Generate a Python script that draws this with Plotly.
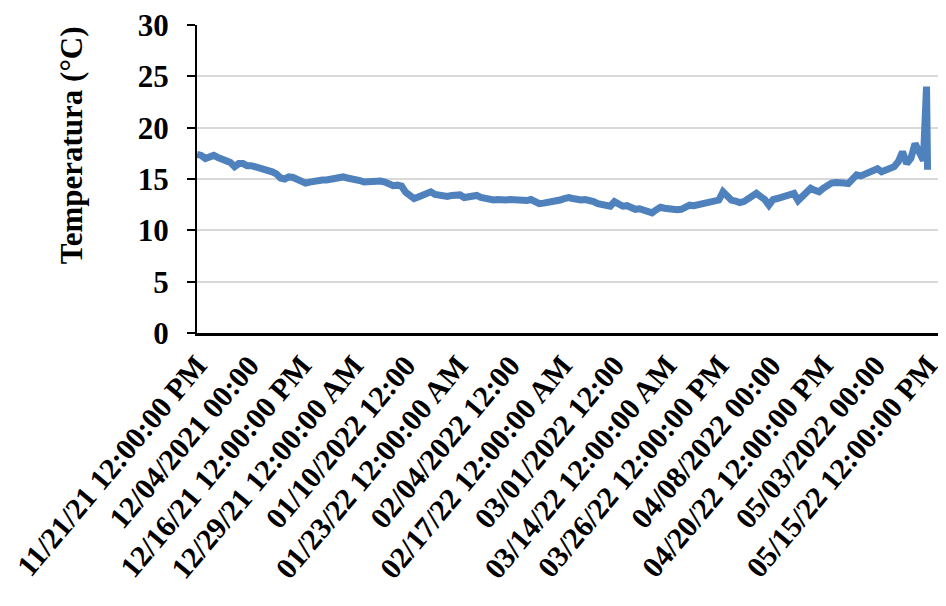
import plotly.graph_objects as go
import pandas as pd

# Daily readings starting 2021-11-21 12:00
start_time = "2021-11-21 12:00"
temps_daily = [
    17.4, 17.3, 17.0, 17.2, 17.3, 17.1, 16.9, 16.8, 16.6, 16.2,
    16.5, 16.5, 16.3, 16.3, 16.2, 16.1, 16.0, 15.9, 15.7, 15.5,
    15.1, 15.0, 15.2, 15.15, 15.0, 14.8, 14.6, 14.7, 14.8, 14.8,
    14.9, 14.9, 15.0, 15.1, 15.2, 15.2, 15.1, 15.05, 15.0, 14.85,
    14.7, 14.75, 14.8, 14.8, 14.8, 14.7, 14.5, 14.35, 14.4, 14.3,
    13.7, 13.3, 13.1, 13.25, 13.4, 13.5, 13.75, 13.5, 13.4, 13.35,
    13.3, 13.4, 13.5, 13.45, 13.2, 13.3, 13.35, 13.4, 13.2, 13.1,
    13.0, 12.95, 13.0, 12.9, 12.95, 13.0, 12.95, 12.85, 12.8, 12.9,
    13.0, 12.85, 12.6, 12.65, 12.7, 12.75, 12.8, 12.95, 13.1, 13.2,
    13.1, 13.0, 12.95, 13.0, 12.95, 12.8, 12.6, 12.5, 12.4, 12.35,
    12.8, 12.6, 12.35, 12.4, 12.2, 12.05, 12.1, 12.0, 11.8, 11.7,
    12.0, 12.25, 12.15, 12.05, 12.1, 12.0, 12.05, 12.25, 12.45, 12.4,
    12.5, 12.55, 12.7, 12.8, 12.9, 12.95, 13.75, 13.35, 12.95, 12.85,
    12.7, 12.8, 13.1, 13.4, 13.6, 13.3, 13.0, 12.45, 13.0, 13.1,
    13.2, 13.3, 13.5, 13.6, 12.9, 13.3, 13.8, 14.1, 13.9, 13.75,
    14.1, 14.4, 14.6, 14.65, 14.7, 14.6, 14.55, 14.9, 15.4, 15.3,
    15.5, 15.7, 15.8, 16.0, 15.7, 15.85, 16.0, 16.2, 16.7, 17.65,
    16.5, 17.0, 18.45, 17.6, 16.8,
]
tail_times = ["2022-05-15 06:00", "2022-05-15 12:00"]
tail_temps = [24.0, 15.9]

tick_dates = [
    "2021-11-21 12:00", "2021-12-04 00:00", "2021-12-16 12:00", "2021-12-29 00:00",
    "2022-01-10 12:00", "2022-01-23 00:00", "2022-02-04 12:00", "2022-02-17 00:00",
    "2022-03-01 12:00", "2022-03-14 00:00", "2022-03-26 12:00", "2022-04-08 00:00",
    "2022-04-20 12:00", "2022-05-03 00:00", "2022-05-15 12:00",
]
tick_labels = [
    "11/21/21 12:00:00 PM", "12/04/2021 00:00", "12/16/21 12:00:00 PM",
    "12/29/21 12:00:00 AM", "01/10/2022 12:00", "01/23/22 12:00:00 AM",
    "02/04/2022 12:00", "02/17/22 12:00:00 AM", "03/01/2022 12:00",
    "03/14/22 12:00:00 AM", "03/26/22 12:00:00 PM", "04/08/2022 00:00",
    "04/20/22 12:00:00 PM", "05/03/2022 00:00", "05/15/22 12:00:00 PM",
]
y_ticks = [0, 5, 10, 15, 20, 25, 30]
y_title = "Temperatura (°C)"

times = list(pd.date_range(start_time, periods=len(temps_daily), freq="D")
             .strftime("%Y-%m-%d %H:%M")) + tail_times
temps = temps_daily + tail_temps

FONT = "Liberation Serif"

fig = go.Figure()
fig.add_trace(go.Scatter(
    x=times, y=temps, mode="lines",
    line=dict(color="#4F81BD", width=7),
    showlegend=False,
))

fig.update_layout(
    width=930, height=590,
    margin=dict(l=189, r=0, t=17, b=265),
    paper_bgcolor="white", plot_bgcolor="white",
    font=dict(family=FONT, size=31, color="black", weight="bold"),
)
fig.update_xaxes(
    type="date", automargin=False,
    range=["2021-11-21 11:50", "2022-05-18 00:00"],
    tickmode="array", tickvals=tick_dates, ticktext=tick_labels,
    tickangle=-50, ticklabeloverflow="allow",
    tickfont=dict(family=FONT, size=30, color="black", weight="bold"),
    showline=True, linecolor="black", linewidth=2.5,
    ticks="", showgrid=False, zeroline=False,
)
fig.update_yaxes(
    range=[0, 30], tickmode="array", tickvals=y_ticks, automargin=False,
    ticklabeloverflow="allow",
    tickfont=dict(family=FONT, size=31, color="black", weight="bold"),
    ticks="outside", ticklen=8, tickwidth=2, tickcolor="black",
    ticklabelstandoff=12,
    showline=True, linecolor="black", linewidth=2,
    showgrid=True, gridcolor="#d9d9d9", gridwidth=2,
    zeroline=False,
)
fig.add_annotation(
    text=y_title, textangle=-90, showarrow=False,
    xref="paper", yref="paper", x=-0.170, y=0.61,
    xanchor="center", yanchor="middle",
    font=dict(family=FONT, size=31, color="black", weight="bold"),
)

fig.write_html("out.html")
